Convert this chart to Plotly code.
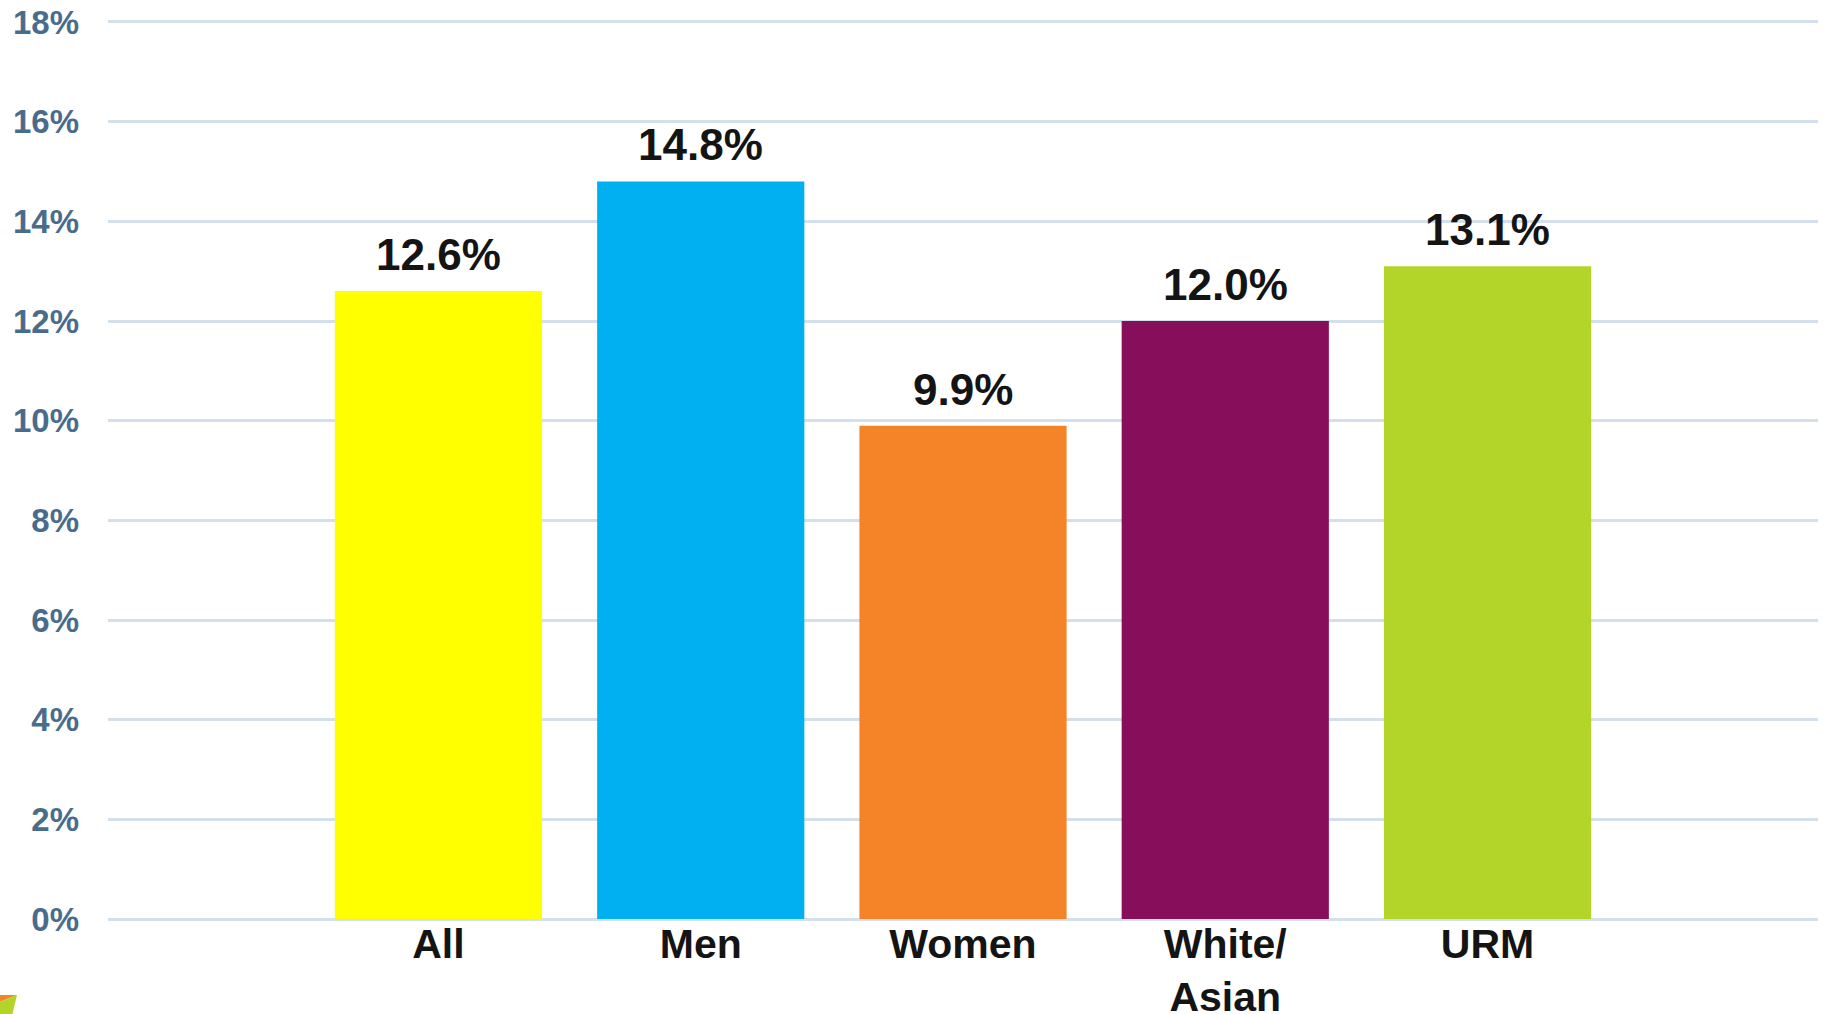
import plotly.graph_objects as go

# Share of students, by group
categories = ["All", "Men", "Women", "White/<br>Asian", "URM"]
values = [0.126, 0.148, 0.099, 0.120, 0.131]
bar_colors = ["#FFFF00", "#00B0F0", "#F48427", "#870E5A", "#B3D428"]

y_ticks = [0, 0.02, 0.04, 0.06, 0.08, 0.10, 0.12, 0.14, 0.16, 0.18]

positions = list(range(len(categories)))
FONT = "Liberation Sans, Arial, sans-serif"

fig = go.Figure(
    go.Bar(
        x=positions,
        y=values,
        width=0.79,
        marker=dict(color=bar_colors, line=dict(width=0)),
        hoverinfo="skip",
    )
)

# Value labels above each bar
for xpos, v in zip(positions, values):
    fig.add_annotation(
        x=xpos,
        y=v,
        text=f"<b>{v * 100:.1f}%</b>",
        showarrow=False,
        yanchor="bottom",
        yshift=10,
        font=dict(family=FONT, size=44, color="#141414"),
    )

fig.update_layout(
    width=1826,
    height=1014,
    margin=dict(l=108, r=8, t=20, b=93, autoexpand=False),
    paper_bgcolor="white",
    plot_bgcolor="white",
    showlegend=False,
    bargap=0.21,
    font=dict(family=FONT),
    # small corner decoration
    shapes=[
        dict(
            type="path",
            xref="paper",
            yref="paper",
            path="M -0.07 -0.0821 L -0.0532 -0.0821 L -0.07 -0.0950 Z",
            fillcolor="#F48427",
            line=dict(width=0),
            layer="above",
        ),
        dict(
            type="path",
            xref="paper",
            yref="paper",
            path="M -0.0532 -0.0821 L -0.0560 -0.1040 L -0.07 -0.1040 L -0.07 -0.0950 Z",
            fillcolor="#B3D428",
            line=dict(width=0),
            layer="above",
        ),
    ],
)

fig.update_xaxes(
    range=[-1.26, 5.26],
    tickmode="array",
    tickvals=positions,
    ticktext=[f"<b>{c}</b>" for c in categories],
    tickfont=dict(family=FONT, size=41, color="#141414"),
    showgrid=False,
    showline=False,
    zeroline=False,
    ticks="",
    ticklabelstandoff=-5,
    automargin=False,
    fixedrange=True,
)

fig.update_yaxes(
    range=[-0.0004, 0.1804],
    tickmode="array",
    tickvals=y_ticks,
    ticktext=[f"<b>{round(t * 100)}%</b>" for t in y_ticks],
    tickfont=dict(family=FONT, size=33, color="#4A6C8C"),
    showgrid=True,
    gridcolor="#D3DFEA",
    gridwidth=2.5,
    zeroline=False,
    showline=False,
    ticks="",
    ticklabelstandoff=28,
    automargin=False,
    fixedrange=True,
)

fig.write_html("out.html", config={"displayModeBar": False})
